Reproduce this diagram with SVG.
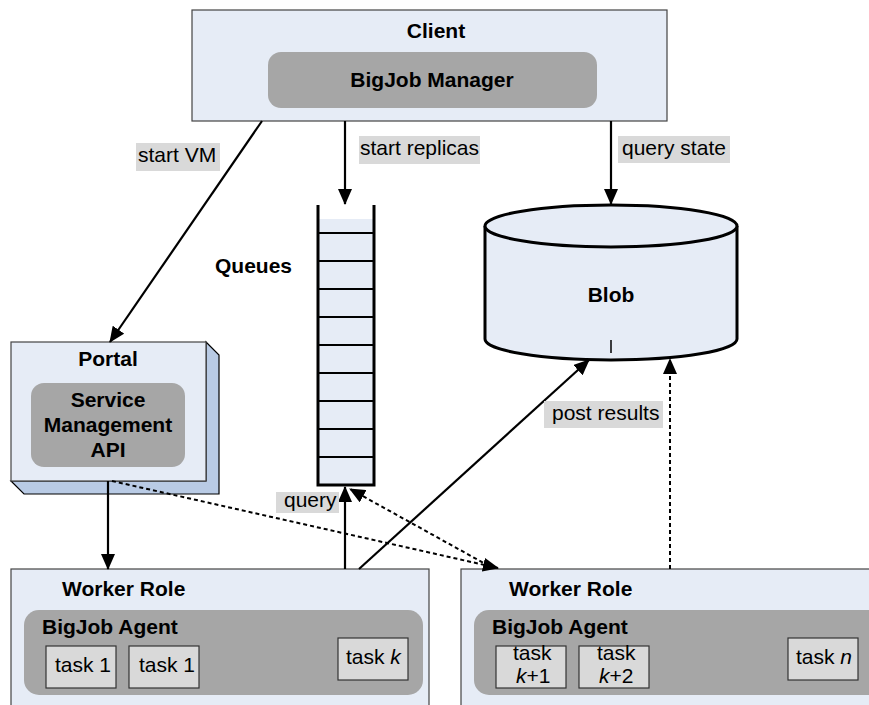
<svg xmlns="http://www.w3.org/2000/svg" width="869" height="705" viewBox="0 0 869 705">
<defs>
<marker id="arr" markerUnits="userSpaceOnUse" markerWidth="16" markerHeight="14" refX="15" refY="7" orient="auto">
<path d="M0,0 L16,7 L0,14 Z" fill="#000"/>
</marker>
<style>
text{font-family:"Liberation Sans",Arial,sans-serif;font-size:21px;fill:#000}
.b{font-weight:bold}
.box{fill:#e6ecf6;stroke:#444;stroke-width:1.2}
.inner{fill:#a6a6a6}
.lbl{fill:#d9d9d9}
.task{fill:#d9d9d9;stroke:#333;stroke-width:1.2}
.line{stroke:#000;stroke-width:2.2;fill:none}
.dash{stroke:#000;stroke-width:2;fill:none;stroke-dasharray:4 3}
</style>
</defs>
<rect width="869" height="705" fill="#fff"/>

<g id="client">
<rect class="box" x="192" y="10" width="475" height="111"/>
<rect class="inner" x="268" y="52" width="329" height="56" rx="13"/>
<text class="b" x="436" y="38" text-anchor="middle">Client</text>
<text class="b" x="432" y="87" text-anchor="middle">BigJob Manager</text>
</g>

<g id="queues">
<rect x="318" y="219" width="56" height="266" fill="#e6ecf6"/>
<g stroke="#000" stroke-width="2">
<line x1="318" y1="233" x2="374" y2="233"/>
<line x1="318" y1="261" x2="374" y2="261"/>
<line x1="318" y1="289" x2="374" y2="289"/>
<line x1="318" y1="317" x2="374" y2="317"/>
<line x1="318" y1="345" x2="374" y2="345"/>
<line x1="318" y1="373" x2="374" y2="373"/>
<line x1="318" y1="401" x2="374" y2="401"/>
<line x1="318" y1="429" x2="374" y2="429"/>
<line x1="318" y1="457" x2="374" y2="457"/>
</g>
<path d="M318,205 V485 H374 V205" fill="none" stroke="#000" stroke-width="3"/>
<text class="b" x="215" y="273">Queues</text>
</g>

<g id="blob">
<path d="M485,226 V339 A126,21 0 0 0 737,339 V226" fill="#e6ecf6" stroke="#000" stroke-width="3"/>
<ellipse cx="611" cy="226" rx="126" ry="21" fill="#e6ecf6" stroke="#000" stroke-width="3"/>
<line x1="611" y1="340" x2="611" y2="353" stroke="#000" stroke-width="1.5"/>
<text class="b" x="611" y="302" text-anchor="middle">Blob</text>
</g>

<g id="portal">
<path d="M206,342 L219,355 V494 H24 L11,481 H206 Z" fill="#b9cbe5" stroke="#000" stroke-width="1.2"/>
<rect class="box" x="11" y="342" width="195" height="139" stroke="#000"/>
<rect class="inner" x="31" y="383" width="154" height="84" rx="13"/>
<text class="b" x="108" y="366" text-anchor="middle">Portal</text>
<text class="b" x="108" y="407" text-anchor="middle">Service</text>
<text class="b" x="108" y="432" text-anchor="middle">Management</text>
<text class="b" x="108" y="457" text-anchor="middle">API</text>
</g>

<g id="worker1">
<rect class="box" x="11" y="569" width="418" height="150"/>
<rect class="inner" x="24" y="610" width="399" height="85" rx="15"/>
<text class="b" x="62" y="596">Worker Role</text>
<text class="b" x="42" y="634">BigJob Agent</text>
<rect class="task" x="46" y="646" width="70" height="42"/>
<text x="55" y="672">task 1</text>
<rect class="task" x="129" y="646" width="70" height="42"/>
<text x="139" y="672">task 1</text>
<rect class="task" x="338" y="638" width="70" height="42"/>
<text x="346" y="664">task <tspan font-style="italic">k</tspan></text>
</g>

<g id="worker2">
<rect class="box" x="461" y="569" width="420" height="150"/>
<rect class="inner" x="474" y="610" width="410" height="85" rx="15"/>
<text class="b" x="509" y="596">Worker Role</text>
<text class="b" x="492" y="634">BigJob Agent</text>
<rect class="task" x="496" y="646" width="70" height="42"/>
<text x="513" y="660">task</text>
<text x="516" y="683"><tspan font-style="italic">k</tspan>+1</text>
<rect class="task" x="579" y="646" width="70" height="42"/>
<text x="597" y="660">task</text>
<text x="599" y="683"><tspan font-style="italic">k</tspan>+2</text>
<rect class="task" x="788" y="638" width="70" height="42"/>
<text x="796" y="664">task <tspan font-style="italic">n</tspan></text>
</g>

<g id="connectors">
<line class="line" x1="262" y1="121" x2="110" y2="342" marker-end="url(#arr)"/>
<line class="line" x1="345" y1="121" x2="345" y2="204" marker-end="url(#arr)"/>
<line class="line" x1="611" y1="121" x2="611" y2="204" marker-end="url(#arr)"/>
<line class="line" x1="108" y1="481" x2="108" y2="569" marker-end="url(#arr)"/>
<line class="line" x1="345" y1="569" x2="345" y2="487" marker-end="url(#arr)"/>
<line class="line" x1="359" y1="569" x2="589" y2="360" marker-end="url(#arr)"/>
<line class="dash" x1="670" y1="569" x2="670" y2="359" marker-end="url(#arr)"/>
<line class="dash" x1="112" y1="481" x2="498" y2="568" marker-end="url(#arr)"/>
<line class="dash" x1="489" y1="566" x2="350" y2="489" marker-end="url(#arr)"/>
<rect class="lbl" x="136" y="143" width="84" height="28"/>
<text x="138" y="162">start VM</text>
<rect class="lbl" x="359" y="136" width="121" height="28"/>
<text x="360" y="155">start replicas</text>
<rect class="lbl" x="618" y="136" width="112" height="27"/>
<text x="622" y="155">query state</text>
<rect class="lbl" x="544" y="401" width="119" height="27"/>
<text x="552" y="420">post results</text>
<rect class="lbl" x="276" y="492" width="63" height="21"/>
<text x="284" y="507">query</text>
</g>
</svg>
